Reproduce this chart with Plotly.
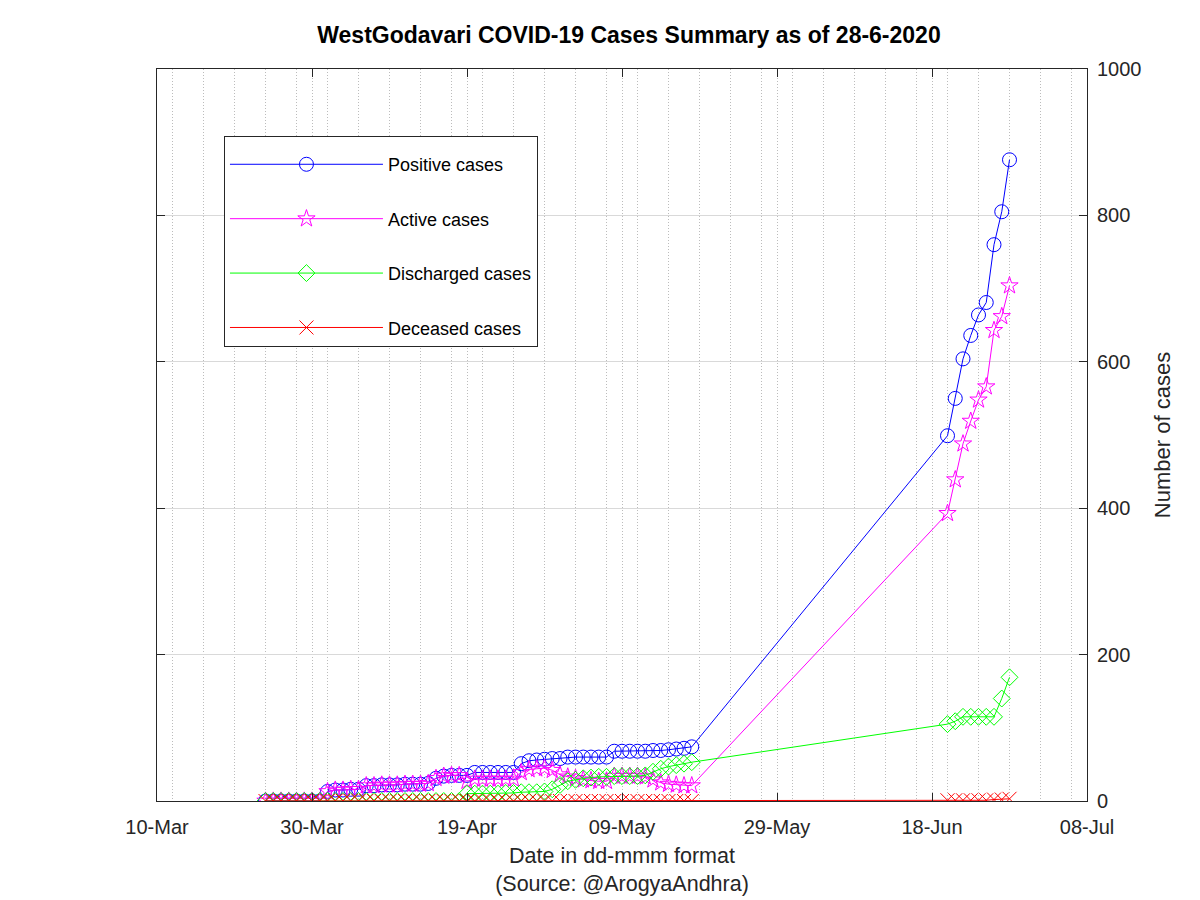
import pandas as pd
import plotly.graph_objects as go

# ---- data ----
dates_1 = pd.date_range("2020-03-24", "2020-05-18", freq="D")
dates_2 = pd.date_range("2020-06-20", "2020-06-28", freq="D")
dates = list(dates_1) + list(dates_2)

positive = [0, 0, 0, 0, 0, 0, 0, 0,
            13, 15, 15, 16, 16,
            21, 21, 22, 22, 22, 23, 23, 23, 24,
            31, 34, 35, 35, 35,
            39, 39, 39, 39, 39, 39,
            51, 55, 56, 57, 58, 58,
            60, 60, 60, 60, 60, 60,
            68, 68, 68, 68, 68, 69, 69, 70, 71, 72, 74,
            499, 550, 604, 636, 664, 681, 760, 805, 876]

active = [0, 0, 0, 0, 0, 0, 0, 0,
          13, 15, 15, 16, 16,
          21, 21, 22, 22, 22, 23, 23, 23, 24,
          31, 34, 35, 35, 27,
          30, 30, 30, 30, 30, 30,
          39, 43, 44, 45, 42, 36,
          33, 31, 29, 28, 27, 27,
          34, 34, 34, 34, 33, 29, 25, 23, 22, 21, 21,
          393, 439, 488, 519, 548, 566, 643, 662, 704]

discharged = [0] * 26 + [10, 10, 10, 10, 10, 11, 11, 12, 12, 12, 13,
                         16, 22, 27, 29, 31, 32, 33, 33,
                         34, 34, 34, 34, 35, 40, 44, 47, 49, 51, 53,
                         105, 109, 115, 115, 115, 115, 115, 140, 169]

deceased = [0] * 56 + [1, 1, 1, 1, 1, 1, 2, 2, 3]

series = [
    ("Positive cases", positive, "#0000ff", "circle-open", 14),
    ("Active cases", active, "#ff00ff", "star-open", 13),
    ("Discharged cases", discharged, "#00ff00", "diamond-open", 13),
    ("Deceased cases", deceased, "#ff0000", "x-thin-open", 14),
]

fig = go.Figure()
for i, (name, vals, col, sym, sz) in enumerate(series):
    fig.add_trace(go.Scatter(
        x=dates, y=vals, name=name, mode="lines+markers",
        legendgroup=f"g{i}",
        line=dict(color=col, width=1),
        marker=dict(symbol=sym, size=sz, color=col, line=dict(color=col, width=1)),
    ))

DAY = 86400000
fig.update_layout(
    width=1200, height=900,
    paper_bgcolor="white", plot_bgcolor="white",
    margin=dict(l=149, r=121, t=61, b=107),
    font=dict(family="Liberation Sans, Arial, sans-serif", color="#262626"),
    title=dict(text="<b>WestGodavari COVID-19 Cases Summary as of 28-6-2020</b>",
               x=0.5175, xanchor="center", y=0.97, yanchor="middle",
               font=dict(size=23, color="black")),
    showlegend=True,
    legend=dict(x=0.072, y=0.9085, xanchor="left", yanchor="top",
                bgcolor="white", bordercolor="#262626", borderwidth=1,
                font=dict(size=18, color="black"), tracegroupgap=28,
                itemwidth=153, entrywidth=330,
                title=dict(text=" ", font=dict(size=7))),
)

fig.update_xaxes(
    type="date", range=["2020-03-10", "2020-07-08"],
    tick0="2020-03-10", dtick=20 * DAY, tickformat="%d-%b",
    ticks="inside", ticklen=8, tickcolor="#262626",
    showline=True, linecolor="#262626", linewidth=1, mirror="ticks",
    showgrid=True, gridcolor="#bcbcbc", griddash="1px,2px", gridwidth=1,
    minor=dict(dtick=4 * DAY, showgrid=True, gridcolor="#bcbcbc",
               griddash="1px,2px", gridwidth=1, ticks=""),
    tickfont=dict(size=20),
    ticklabelstandoff=8,
    title=dict(text="Date in dd-mmm format<br>(Source: @ArogyaAndhra)",
               font=dict(size=21.5), standoff=10),
    zeroline=False,
)
fig.update_yaxes(
    side="right", range=[0, 1000], dtick=200,
    ticks="inside", ticklen=8, tickcolor="#262626",
    showline=True, linecolor="#262626", linewidth=1, mirror="ticks",
    showgrid=True, gridcolor="#d9d9d9", gridwidth=1,
    tickfont=dict(size=20),
    ticklabelstandoff=5,
    title=dict(text="Number of cases", font=dict(size=22), standoff=14),
    zeroline=False,
)

fig.write_html("out.html")
